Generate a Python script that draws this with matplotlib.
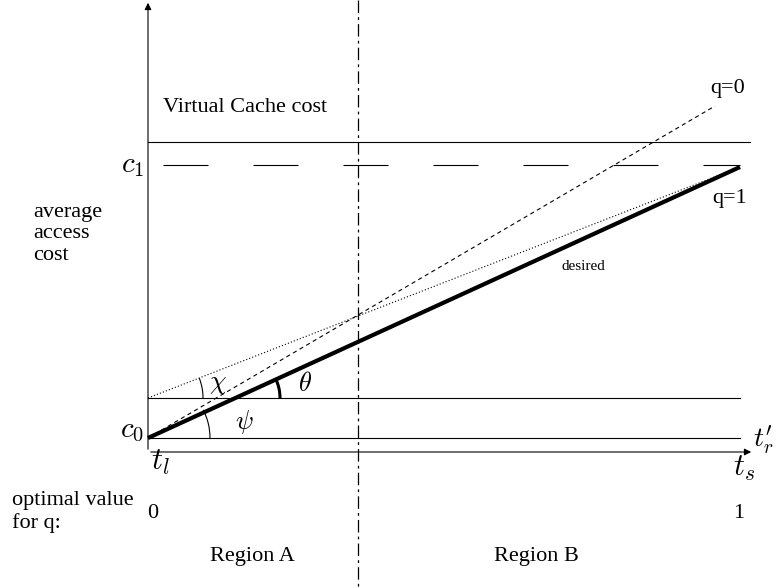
import numpy as np
import matplotlib.pyplot as plt
from matplotlib.patches import Arc, FancyArrowPatch

plt.rcParams['font.family'] = ['Liberation Serif', 'DejaVu Serif']
plt.rcParams['mathtext.fontset'] = 'cm'
plt.rcParams['lines.scale_dashes'] = False

# diagram geometry (drawing units)
x0, x1 = 148, 740          # t_l .. t_s
y_axis = 452
y_c0 = 438
y_chi = 398
y_c1 = 165
y_virtual = 142
x_split = 358

# line endpoints
desired = ([x0, x1], [y_c0, 167])
q0_line = ([x0, 715], [y_c0, 106])
dotted = ([x0, x1], [y_chi, 167])

fig = plt.figure(figsize=(7.76, 5.88), dpi=100)
ax = fig.add_axes([0, 0, 1, 1])
ax.set_xlim(0, 776)
ax.set_ylim(588, 0)
ax.axis('off')

# axes with arrows
ax.add_patch(FancyArrowPatch((x0, y_axis), (x0, 0), arrowstyle='-|>', mutation_scale=10, lw=0.8, color='k'))
ax.add_patch(FancyArrowPatch((x0, y_axis), (754, y_axis), arrowstyle='-|>', mutation_scale=10, lw=0.8, color='k'))

# horizontal reference lines
ax.plot([x0, 750], [y_virtual, y_virtual], color='k', lw=0.8)
ax.plot([x0, x1], [y_c0, y_c0], color='k', lw=0.8)
ax.plot([x0, x1], [y_chi, y_chi], color='k', lw=0.8)
ax.plot([163, x1], [y_c1, y_c1], color='k', lw=0.8, dashes=(32.4, 32.4))

# region split
ax.plot([x_split, x_split], [0, 588], color='k', lw=0.9, dashes=(9, 3, 2, 3))

# cost lines
ax.plot(*desired, color='k', lw=3, solid_capstyle='butt')
ax.plot(*q0_line, color='k', lw=0.8, dashes=(3, 2.5))
ax.plot(*dotted, color='k', lw=0.8, dashes=(0.8, 1.5))

# angle arcs
ax.add_patch(Arc((x0, y_chi), 110, 110, theta1=-21.3, theta2=0, color='k', lw=0.8))
ax.add_patch(Arc((x0, y_c0), 124, 124, theta1=-27, theta2=0, color='k', lw=0.8))
ax.add_patch(Arc((235, y_chi), 90, 90, theta1=-24.6, theta2=0, color='k', lw=2.2))

# labels
fs = 16
ax.text(163, 108, 'Virtual Cache cost', fontsize=fs, va='center')
ax.text(710, 88, 'q=0', fontsize=fs, va='center')
ax.text(712, 199, 'q=1', fontsize=fs, va='center')
ax.text(562, 266, 'desired', fontsize=11, va='center')
ax.text(33, 234, 'average\naccess\ncost', fontsize=fs, va='center', linespacing=1.15)
ax.text(144, 166, r'$c_1$', fontsize=21, va='center', ha='right')
ax.text(144, 431, r'$c_0$', fontsize=21, va='center', ha='right')
ax.text(218, 385, r'$\chi$', fontsize=19, va='center', ha='center')
ax.text(305, 384, r'$\theta$', fontsize=19, va='center', ha='center')
ax.text(244, 422, r'$\psi$', fontsize=19, va='center', ha='center')
ax.text(160, 462, r'$t_l$', fontsize=22, va='center', ha='center')
ax.text(744, 468, r'$t_s$', fontsize=22, va='center', ha='center')
ax.text(753, 440, r"$t^{\prime}_{r}$", fontsize=20, va='center', ha='left')
ax.text(12, 512, 'optimal value\nfor q:', fontsize=fs, va='center', linespacing=1.25)
ax.text(147, 513, '0', fontsize=fs, va='center')
ax.text(733, 513, '1', fontsize=fs, va='center')
ax.text(252, 557, 'Region A', fontsize=fs, va='center', ha='center')
ax.text(536, 557, 'Region B', fontsize=fs, va='center', ha='center')

fig.savefig('out.png', dpi=100)
